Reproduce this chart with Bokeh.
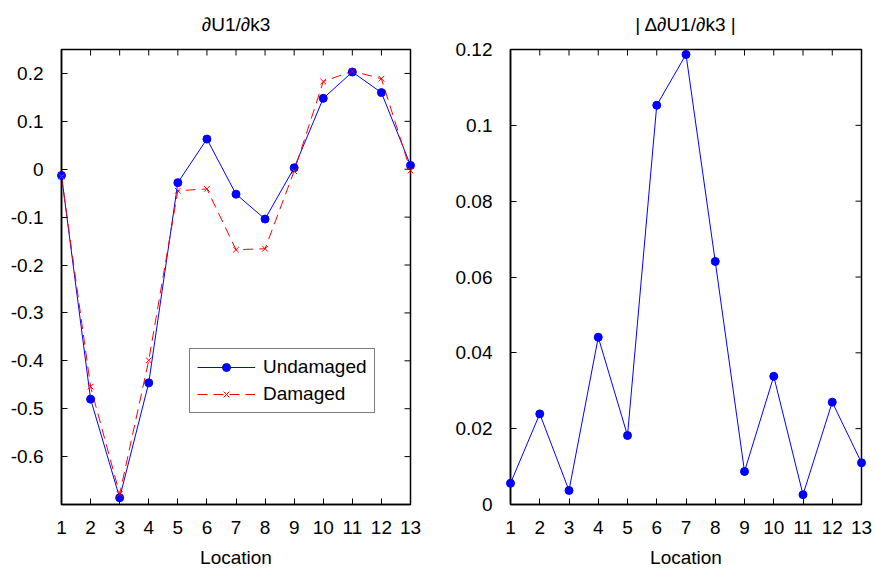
import math

from bokeh.plotting import figure
from bokeh.layouts import row
from bokeh.models import Range1d, FixedTicker, LinearAxis, Legend, LegendItem
from bokeh.embed import file_html
from bokeh.resources import INLINE

# Sensitivity of displacement U1 with respect to stiffness k3 at each location
locations = [1, 2, 3, 4, 5, 6, 7, 8, 9, 10, 11, 12, 13]
undamaged = [-0.013, -0.480, -0.686, -0.446, -0.028, 0.063, -0.052, -0.104,
             0.003, 0.148, 0.203, 0.160, 0.008]
damaged = [-0.015, -0.454, -0.678, -0.399, -0.045, -0.041, -0.168, -0.166,
           -0.004, 0.183, 0.205, 0.189, -0.003]
# Absolute change of the sensitivity between the two states
delta = [0.0056, 0.0239, 0.0037, 0.0441, 0.0182, 0.1053, 0.1187, 0.0641,
         0.0087, 0.0338, 0.0026, 0.0270, 0.0110]

left_yticks = [-0.6, -0.5, -0.4, -0.3, -0.2, -0.1, 0, 0.1, 0.2]
left_ylabels = ["-0.6", "-0.5", "-0.4", "-0.3", "-0.2", "-0.1", "0", "0.1", "0.2"]
right_yticks = [0, 0.02, 0.04, 0.06, 0.08, 0.1, 0.12]
right_ylabels = ["0", "0.02", "0.04", "0.06", "0.08", "0.1", "0.12"]

FONT = "Liberation Sans"
FS = "19px"
BLUE = "#0000ff"
RED = "#ff0000"
TICK = 6


def style_axis(ax, ticks, labels=None):
    ax.ticker = FixedTicker(ticks=ticks)
    ax.major_tick_in = TICK
    ax.major_tick_out = 0
    ax.minor_tick_in = 0
    ax.minor_tick_out = 0
    ax.axis_line_color = "black"
    ax.axis_line_width = 1.5
    ax.major_tick_line_color = "black"
    ax.major_tick_line_width = 1
    ax.major_label_text_font = FONT
    ax.major_label_text_font_size = FS
    ax.major_label_text_color = "black"
    if labels is not None:
        ax.major_label_overrides = {t: l for t, l in zip(ticks, labels)}


def make_panel(title, width, border_left, border_right, yrange, yticks, ylabels):
    xr = (locations[0], locations[-1])
    p = figure(width=width, height=570, output_backend="svg", toolbar_location=None,
               x_range=Range1d(*xr), y_range=Range1d(*yrange),
               min_border_left=border_left, min_border_right=border_right,
               min_border_top=49, min_border_bottom=66,
               x_axis_type=None, y_axis_type=None)
    p.title.text = title
    p.title.align = "center"
    p.title.vertical_align = "top"
    p.title.text_font = FONT
    p.title.text_font_size = FS
    p.title.text_font_style = "normal"
    p.title.text_color = "black"
    p.title.standoff = 26
    p.outline_line_color = "black"
    p.outline_line_width = 1.5
    p.xgrid.visible = False
    p.ygrid.visible = False
    p.background_fill_color = "white"
    p.border_fill_color = "white"

    xb = LinearAxis(axis_label="Location")
    style_axis(xb, locations)
    xb.major_label_standoff = 16
    xb.axis_label_text_font = FONT
    xb.axis_label_text_font_size = FS
    xb.axis_label_text_font_style = "normal"
    xb.axis_label_text_color = "black"
    xb.axis_label_standoff = 10
    p.add_layout(xb, "below")

    yl = LinearAxis()
    style_axis(yl, yticks, ylabels)
    yl.major_label_standoff = 18
    p.add_layout(yl, "left")

    # mirrored inward ticks on the top and right edges; the frame clips
    # each dash to its inner half
    p.scatter(locations, [yrange[1]] * len(locations), marker="dash",
              angle=math.pi / 2, size=2 * TICK, line_color="black", line_width=1)
    p.scatter([xr[1]] * len(yticks), yticks, marker="dash",
              size=2 * TICK, line_color="black", line_width=1)
    return p


p1 = make_panel("\u2202U1/\u2202k3", 440, 61, 30, (-0.7, 0.25), left_yticks, left_ylabels)
l_und = p1.line(locations, undamaged, line_color=BLUE, line_width=1)
s_und = p1.scatter(locations, undamaged, marker="circle", size=8,
                   fill_color=BLUE, line_color=BLUE, level="overlay")
l_dam = p1.line(locations, damaged, line_color=RED, line_width=1, line_dash="10 6")
s_dam = p1.scatter(locations, damaged, marker="x", size=8, line_color=RED,
                   line_width=1, level="overlay")

legend = Legend(items=[LegendItem(label="Undamaged", renderers=[l_und, s_und]),
                       LegendItem(label="Damaged", renderers=[l_dam, s_dam])],
                location=(128, 91))
legend.glyph_width = 58
legend.glyph_height = 20
legend.label_text_font = FONT
legend.label_text_font_size = FS
legend.label_text_color = "black"
legend.label_standoff = 8
legend.spacing = 5
legend.padding = 7
legend.margin = 0
legend.border_line_color = "black"
legend.border_line_width = 1.5
legend.background_fill_color = "white"
legend.background_fill_alpha = 1
p1.add_layout(legend, "center")

p2 = make_panel("| \u0394\u2202U1/\u2202k3 |", 435, 70, 14, (0, 0.12), right_yticks, right_ylabels)
p2.line(locations, delta, line_color=BLUE, line_width=1)
p2.scatter(locations, delta, marker="circle", size=8, fill_color=BLUE,
           line_color=BLUE, level="overlay")

layout = row(p1, p2)
open("out.html", "w").write(file_html(layout, INLINE))
